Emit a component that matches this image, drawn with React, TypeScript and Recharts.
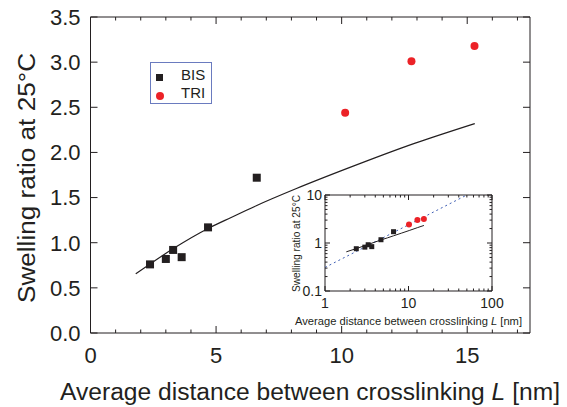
import { ScatterChart, Scatter, XAxis, YAxis } from "recharts";

const bisL = [2.37, 3.0, 3.29, 3.63, 4.68, 6.62];
const bisRatio = [0.76, 0.82, 0.92, 0.84, 1.17, 1.72];
const triL = [10.14, 12.78, 15.29];
const triRatio = [2.44, 3.01, 3.18];

// theory curve
const curveL = [1.8, 2.4, 3.3, 4.7, 5.6, 6.6, 8.2, 10.2, 12.9, 15.3];
const curveRatio = [0.655, 0.77, 0.935, 1.16, 1.28, 1.41, 1.6, 1.82, 2.1, 2.32];

// dotted power-law fit in the inset (end points)
const fitL = [1, 50];
const fitRatio = [0.31, 10];

const xTicks = [0, 1, 2, 3, 4, 5, 6, 7, 8, 9, 10, 11, 12, 13, 14, 15, 16, 17];
const xMajor = [0, 5, 10, 15];
const yTicks = [0, 0.5, 1, 1.5, 2, 2.5, 3, 3.5];
const logXTicks = [1, 2, 3, 4, 5, 6, 7, 8, 9, 10, 20, 30, 40, 50, 60, 70, 80, 90, 100];
const logXMajor = [1, 10, 100];
const logYTicks = [0.1, 0.2, 0.3, 0.4, 0.5, 0.6, 0.7, 0.8, 0.9, 1, 2, 3, 4, 5, 6, 7, 8, 9, 10];
const logYMajor = [0.1, 1, 10];

const zip = (xs: number[], ys: number[]) => xs.map((x, i) => ({ x, y: ys[i] }));
const bis = zip(bisL, bisRatio);
const tri = zip(triL, triRatio);
const curve = zip(curveL, curveRatio);
const fit = zip(fitL, fitRatio);

const INK = "#231f20";
const RED = "#ec2227";
const FONT = "'Liberation Sans', Arial, sans-serif";

const Square = (s: number) => (p: any) => (
  <rect x={p.cx - s / 2} y={p.cy - s / 2} width={s} height={s} fill={INK} />
);
const Dot = (r: number) => (p: any) => <circle cx={p.cx} cy={p.cy} r={r} fill={RED} />;
const NoMark = () => <g />;

function makeTick(side: "b" | "t" | "l" | "r", opts: any) {
  const { major, big, small, fontSize, label, fmt } = opts;
  return (p: any) => {
    const v = p.payload.value;
    const isMajor = major.includes(v);
    const len = isMajor ? big : small;
    const { x, y } = p;
    let line;
    if (side === "b") line = <line x1={x} x2={x} y1={y} y2={y - len} stroke={INK} />;
    else if (side === "t") line = <line x1={x} x2={x} y1={y} y2={y + len} stroke={INK} />;
    else if (side === "l") line = <line x1={x} x2={x + len} y1={y} y2={y} stroke={INK} />;
    else line = <line x1={x} x2={x - len} y1={y} y2={y} stroke={INK} />;
    let text = null;
    if (label && isMajor) {
      if (side === "b")
        text = (
          <text x={x} y={y + label} textAnchor="middle" fontSize={fontSize} fontFamily={FONT} fill={INK}>
            {fmt(v)}
          </text>
        );
      else if (side === "l")
        text = (
          <text x={x - label} y={y + fontSize * 0.36} textAnchor="end" fontSize={fontSize} fontFamily={FONT} fill={INK}>
            {fmt(v)}
          </text>
        );
    }
    return (
      <g>
        {line}
        {text}
      </g>
    );
  };
}

const axisCommon = { tickSize: 0, tickMargin: 0, tickLine: false, interval: 0 as const, axisLine: { stroke: INK } };

function Inset() {
  const o = { major: logXMajor, big: 5, small: 2.5 };
  const oy = { major: logYMajor, big: 5, small: 2.5 };
  return (
    <div style={{ position: "absolute", left: 280, top: 185 }}>
      <ScatterChart width={245} height={145} margin={{ top: 5, right: 28, bottom: 19, left: 15 }}>
        <XAxis
          xAxisId="b" dataKey="x" type="number" scale="log" domain={[1, 100]} allowDataOverflow
          ticks={logXTicks} height={20} {...axisCommon}
          tick={makeTick("b", { ...o, label: 17, fontSize: 14, fmt: (v: number) => String(v) })}
        />
        <XAxis
          xAxisId="t" orientation="top" dataKey="x" type="number" scale="log" domain={[1, 100]} allowDataOverflow
          ticks={logXTicks} height={5} {...axisCommon} tick={makeTick("t", o)}
        />
        <YAxis
          yAxisId="l" dataKey="y" type="number" scale="log" domain={[0.1, 10]} allowDataOverflow
          ticks={logYTicks} width={30} {...axisCommon}
          tick={makeTick("l", { ...oy, label: 3, fontSize: 14, fmt: (v: number) => String(v) })}
        />
        <YAxis
          yAxisId="r" orientation="right" dataKey="y" type="number" scale="log" domain={[0.1, 10]} allowDataOverflow
          ticks={logYTicks} width={5} {...axisCommon} tick={makeTick("r", oy)}
        />
        <Scatter xAxisId="b" yAxisId="l" data={fit} line={{ stroke: "#3f5fb5", strokeWidth: 1, strokeDasharray: "2 3" }} shape={NoMark} isAnimationActive={false} />
        <Scatter xAxisId="t" yAxisId="r" data={curve} line={{ stroke: INK, strokeWidth: 1 }} lineJointType="monotoneX" shape={NoMark} isAnimationActive={false} />
        <Scatter xAxisId="b" yAxisId="l" data={bis} shape={Square(5)} isAnimationActive={false} />
        <Scatter xAxisId="b" yAxisId="l" data={tri} shape={Dot(3)} isAnimationActive={false} />
      </ScatterChart>
      <svg width={245} height={145} style={{ position: "absolute", left: 0, top: 0, overflow: "visible", pointerEvents: "none" }}>
        <text x={128.5} y={140} textAnchor="middle" fontSize={10.5} fontFamily={FONT} fill={INK} textLength={227} lengthAdjust="spacingAndGlyphs">
          Average distance between crosslinking <tspan fontStyle="italic">L</tspan> [nm]
        </text>
        <text transform="translate(20,58.5) rotate(-90)" textAnchor="middle" fontSize={10.5} fontFamily={FONT} fill={INK} textLength={97} lengthAdjust="spacingAndGlyphs">
          Swelling ratio at 25°C
        </text>
      </svg>
    </div>
  );
}

export default function App() {
  const ox = { major: xMajor, big: 7, small: 3.5 };
  const oy = { major: yTicks, big: 7, small: 7 };
  return (
    <div style={{ position: "absolute", left: 0, top: 0, width: 567, height: 407, background: "#fff" }}>
      <ScatterChart width={567} height={407} margin={{ top: 7, right: 27, bottom: 34, left: 30.5 }}>
        <XAxis
          xAxisId="b" dataKey="x" type="number" domain={[0, 17.5]} allowDataOverflow ticks={xTicks}
          height={40} {...axisCommon}
          tick={makeTick("b", { ...ox, label: 30, fontSize: 22, fmt: (v: number) => String(v) })}
        />
        <XAxis
          xAxisId="t" orientation="top" dataKey="x" type="number" domain={[0, 17.5]} allowDataOverflow
          ticks={xTicks} height={10} {...axisCommon} tick={makeTick("t", ox)}
        />
        <YAxis
          yAxisId="l" dataKey="y" type="number" domain={[0, 3.5]} allowDataOverflow ticks={yTicks}
          width={60} {...axisCommon}
          tick={makeTick("l", { ...oy, label: 10, fontSize: 22, fmt: (v: number) => v.toFixed(1) })}
        />
        <YAxis
          yAxisId="r" orientation="right" dataKey="y" type="number" domain={[0, 3.5]} allowDataOverflow
          ticks={yTicks} width={10} {...axisCommon} tick={makeTick("r", oy)}
        />
        <Scatter xAxisId="t" yAxisId="r" data={curve} line={{ stroke: INK, strokeWidth: 1.2 }} lineJointType="monotoneX" shape={NoMark} isAnimationActive={false} />
        <Scatter xAxisId="b" yAxisId="l" data={bis} shape={Square(8)} isAnimationActive={false} />
        <Scatter xAxisId="b" yAxisId="l" data={tri} shape={Dot(4)} isAnimationActive={false} />
      </ScatterChart>
      <svg width={567} height={407} style={{ position: "absolute", left: 0, top: 0, pointerEvents: "none" }}>
        <text x={310} y={400} textAnchor="middle" fontSize={23} fontFamily={FONT} fill={INK} textLength={500} lengthAdjust="spacingAndGlyphs">
          Average distance between crosslinking <tspan fontStyle="italic">L</tspan> [nm]
        </text>
        <text transform="translate(35,178) rotate(-90)" textAnchor="middle" fontSize={23} fontFamily={FONT} fill={INK} textLength={250} lengthAdjust="spacingAndGlyphs">
          Swelling ratio at 25°C
        </text>
      </svg>
      <Inset />
      <div
        style={{
          position: "absolute", left: 150, top: 62, width: 60, height: 40,
          border: "1px solid #6a7bbf", fontFamily: FONT, fontSize: 15, color: INK, background: "#fff",
        }}
      >
        <div style={{ position: "absolute", left: 5, top: 11, width: 7, height: 7, background: INK }} />
        <div style={{ position: "absolute", left: 30, top: 4, lineHeight: "16px" }}>BIS</div>
        <div style={{ position: "absolute", left: 5, top: 28.5, width: 8, height: 8, borderRadius: 4, background: RED }} />
        <div style={{ position: "absolute", left: 30, top: 22, lineHeight: "16px" }}>TRI</div>
      </div>
    </div>
  );
}
